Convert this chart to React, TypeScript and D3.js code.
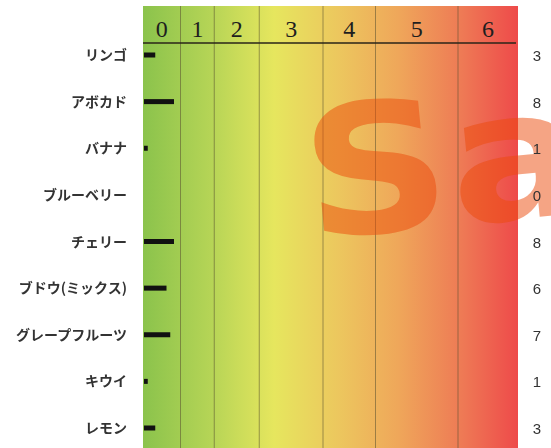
import * as d3 from "d3";

const fruits = [
  "リンゴ",
  "アボカド",
  "バナナ",
  "ブルーベリー",
  "チェリー",
  "ブドウ(ミックス)",
  "グレープフルーツ",
  "キウイ",
  "レモン",
];
const values = [3, 8, 1, 0, 8, 6, 7, 1, 3];

// zone labels across the top and their edges on the value axis
const zoneLabels = ["0", "1", "2", "3", "4", "5", "6"];
const zoneEdges = [0, 10, 19, 31, 48, 62, 84, 100];

const W = 551;
const H = 448;

export default function App() {
  const x = d3.scaleLinear().domain([0, 100]).range([143, 518]);
  const y = d3.scalePoint<string>().domain(fruits).range([55, 428]);

  const zones = zoneLabels.map((label, i) => ({
    label,
    x0: zoneEdges[i],
    x1: zoneEdges[i + 1],
  }));

  return (
    <svg
      width={W}
      height={H}
      style={{ position: "fixed", left: 0, top: 0, display: "block" }}
    >
      <defs>
        <linearGradient id="heat" x1="0" x2="1" y1="0" y2="0">
          <stop offset="0%" stopColor="#8bc34c" />
          <stop offset="18%" stopColor="#b5d456" />
          <stop offset="35%" stopColor="#e6e65e" />
          <stop offset="52%" stopColor="#ecc75e" />
          <stop offset="68%" stopColor="#efa75a" />
          <stop offset="85%" stopColor="#ee7a55" />
          <stop offset="100%" stopColor="#ee4a4a" />
        </linearGradient>
      </defs>

      <rect
        x={x(0)}
        y={6}
        width={x(100) - x(0)}
        height={H - 6}
        fill="url(#heat)"
      />

      {/* zone separators */}
      {zoneEdges.slice(1, -1).map((e) => (
        <line
          key={e}
          x1={x(e)}
          x2={x(e)}
          y1={6}
          y2={H}
          stroke="#5a5030"
          strokeOpacity={0.55}
          strokeWidth={1}
        />
      ))}

      {/* zone labels */}
      {zones.map((z) => (
        <text
          key={z.label}
          x={(x(z.x0) + x(z.x1)) / 2}
          y={37}
          textAnchor="middle"
          fontFamily="Liberation Serif, serif"
          fontSize={24}
          fill="#1e1e1e"
        >
          {z.label}
        </text>
      ))}
      <line x1={x(0)} x2={x(100) - 2} y1={43} y2={43} stroke="#2a2418" strokeWidth={1.6} />

      {/* bars */}
      {fruits.map((f, i) => (
        <rect
          key={f}
          x={x(0) + 1}
          y={(y(f) as number) - 2.5}
          width={x(values[i]) - x(0)}
          height={5}
          fill="#111"
        />
      ))}

      {/* watermark */}
      <g transform="translate(309 239) rotate(-5.5) scale(1.13 1)">
        <text
          x={0}
          y={0}
          fontFamily="DejaVu Sans, sans-serif"
          fontWeight="bold"
          fontSize={180}
          fill="#eb4a0a"
          fillOpacity={0.5}
        >
          Sa
        </text>
      </g>

      {/* category labels */}
      {fruits.map((f) => (
        <text
          key={f}
          x={127}
          y={(y(f) as number) + 5}
          textAnchor="end"
          fontFamily="Noto Sans CJK JP, sans-serif"
          fontWeight="bold"
          fontSize={14}
          fill="#333"
        >
          {f}
        </text>
      ))}

      {/* value labels */}
      {fruits.map((f, i) => (
        <text
          key={f}
          x={537}
          y={(y(f) as number) + 6}
          textAnchor="middle"
          fontFamily="Liberation Sans, Arial, sans-serif"
          fontSize={15}
          fill="#333"
        >
          {values[i]}
        </text>
      ))}
    </svg>
  );
}
